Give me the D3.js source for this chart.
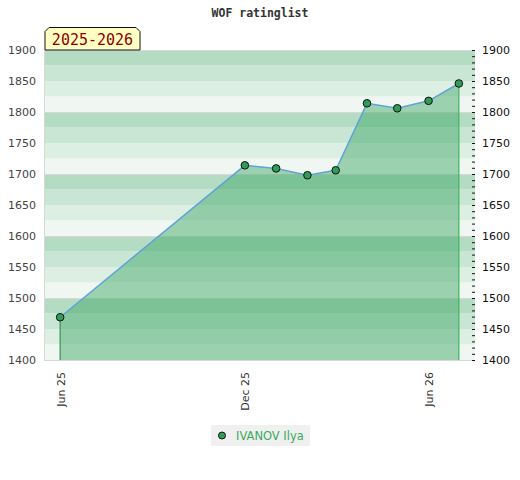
<!DOCTYPE html>
<html>
<head>
  <meta charset="utf-8">
  <script src="https://d3js.org/d3.v7.min.js"></script>
  <style>
    body { margin: 0; background: #fff; }
  </style>
</head>
<body>
  <svg id="chart" width="520" height="480"></svg>
  <script>
    // data
    const dates = ["2025-06-01", "2025-12-01", "2026-01-01", "2026-02-01", "2026-03-01",
      "2026-04-01", "2026-05-01", "2026-06-01", "2026-07-01"];
    const ratings = [1469, 1714, 1709, 1698, 1706, 1814, 1806, 1818, 1846];
    const xTicks = ["2025-06-01", "2025-12-01", "2026-06-01"];
    const yTicks = [1400, 1450, 1500, 1550, 1600, 1650, 1700, 1750, 1800, 1850, 1900];
    const playerName = "IVANOV Ilya";
    const seasonLabel = "2025-2026";
    const title = "WOF ratinglist";

    const svg = d3.select("#chart");
    const parse = d3.timeParse("%Y-%m-%d");
    const points = dates.map((d, i) => ({ date: parse(d), rating: ratings[i] }));

    const plotL = 45, plotR = 475, plotT = 50, plotB = 360;

    const x = d3.scaleTime()
      .domain([parse("2025-05-17"), parse("2026-07-17")])
      .range([plotL, plotR]);
    const y = d3.scaleLinear().domain([1400, 1900]).range([plotB, plotT]);

    // striped background, 4 bands per hundred, darker on top
    const bandColors = ["#b3dcc3", "#c8e6d3", "#ddefe3", "#f0f7f2"];
    const bands = d3.range(1400, 1900, 25);
    svg.append("g").selectAll("rect").data(bands).join("rect")
      .attr("x", plotL)
      .attr("width", plotR - plotL)
      .attr("y", d => y(d + 25))
      .attr("height", d => y(d) - y(d + 25))
      .attr("fill", d => bandColors[3 - ((d % 100) / 25)]);

    // hundred lines and frame
    svg.append("g").selectAll("line").data(d3.range(1400, 1901, 100)).join("line")
      .attr("x1", plotL).attr("x2", plotR)
      .attr("y1", d => y(d) + 0.5).attr("y2", d => y(d) + 0.5)
      .attr("stroke", "#d8d8d8");
    svg.append("line")
      .attr("x1", plotL - 0.5).attr("x2", plotL - 0.5)
      .attr("y1", plotT).attr("y2", plotB + 1)
      .attr("stroke", "#d8d8d8");

    // area under the rating line
    const area = d3.area()
      .x(d => x(d.date))
      .y0(y(1400))
      .y1(d => y(d.rating));
    svg.append("path")
      .datum(points)
      .attr("d", area)
      .attr("fill", "#3da667")
      .attr("fill-opacity", 0.47);

    const first = points[0], last = points[points.length - 1];
    svg.append("g").selectAll("line").data([first, last]).join("line")
      .attr("x1", d => x(d.date)).attr("x2", d => x(d.date))
      .attr("y1", d => y(d.rating)).attr("y2", y(1400))
      .attr("stroke", (d, i) => i == 0 ? "#3a8f55" : "#3cb55e")
      .attr("stroke-width", 1.2);

    const line = d3.line()
      .x(d => x(d.date))
      .y(d => y(d.rating));
    svg.append("path")
      .datum(points)
      .attr("d", line)
      .attr("fill", "none")
      .attr("stroke", "#5fa3d8")
      .attr("stroke-width", 1.5);

    svg.append("g").selectAll("circle").data(points).join("circle")
      .attr("cx", d => x(d.date))
      .attr("cy", d => y(d.rating))
      .attr("r", 3.8)
      .attr("fill", "#2f9d57")
      .attr("stroke", "#111")
      .attr("stroke-width", 1);

    const numFmt = d3.format("d");

    // left axis labels
    const leftAxis = svg.append("g")
      .attr("transform", `translate(${plotL},0)`)
      .call(d3.axisLeft(y).tickValues(yTicks).tickSize(0).tickPadding(9).tickFormat(numFmt));
    leftAxis.select(".domain").remove();
    leftAxis.selectAll("text")
      .attr("font-family", "DejaVu Sans")
      .attr("font-size", 11)
      .attr("fill", "#444");

    // right axis: minor ticks every 10, labels every 50
    const minor = svg.append("g")
      .attr("transform", `translate(${plotR},0)`)
      .call(d3.axisRight(y).tickValues(d3.range(1400, 1901, 10)).tickSize(-3).tickFormat(""));
    minor.select(".domain").remove();
    minor.selectAll("line").attr("stroke", "#111");

    const rightAxis = svg.append("g")
      .attr("transform", `translate(${plotR},0)`)
      .call(d3.axisRight(y).tickValues(yTicks).tickSize(0).tickPadding(7).tickFormat(numFmt));
    rightAxis.select(".domain").remove();
    rightAxis.selectAll("text")
      .attr("font-family", "DejaVu Sans")
      .attr("font-size", 11)
      .attr("fill", "#111");

    // x axis, rotated labels
    const fmt = d3.timeFormat("%b %y");
    const xAxis = svg.append("g")
      .attr("transform", `translate(0,${plotB})`)
      .call(d3.axisBottom(x).tickValues(xTicks.map(parse)).tickSize(0).tickFormat(fmt));
    xAxis.select(".domain").remove();
    xAxis.selectAll("text")
      .attr("font-family", "DejaVu Sans")
      .attr("font-size", 11)
      .attr("fill", "#333")
      .attr("text-anchor", "end")
      .attr("transform", "rotate(-90)")
      .attr("x", -12)
      .attr("y", 0)
      .attr("dy", "0.35em");

    // title
    svg.append("text")
      .attr("x", 260).attr("y", 17)
      .attr("text-anchor", "middle")
      .attr("font-family", "DejaVu Sans Mono")
      .attr("font-weight", "bold")
      .attr("font-size", 11.5)
      .attr("fill", "#333")
      .text(title);

    // season label box with clipped top corners
    const bx0 = 45, bx1 = 140, by0 = 27.5, by1 = 50, c = 4;
    svg.append("path")
      .attr("d", `M${bx0},${by1} L${bx0},${by0 + c} L${bx0 + c},${by0} L${bx1 - c},${by0} L${bx1},${by0 + c} L${bx1},${by1} Z`)
      .attr("fill", "#ffffc4")
      .attr("stroke", "#111")
      .attr("stroke-width", 1);
    svg.append("text")
      .attr("x", 92.5).attr("y", 45)
      .attr("text-anchor", "middle")
      .attr("font-family", "DejaVu Sans Mono")
      .attr("font-size", 15)
      .attr("fill", "#8b0000")
      .text(seasonLabel);

    // legend
    const legend = svg.append("g").attr("transform", "translate(211,425)");
    legend.append("rect")
      .attr("width", 99).attr("height", 21)
      .attr("fill", "#f0f0f0");
    legend.append("circle")
      .attr("cx", 11).attr("cy", 10.5).attr("r", 3.5)
      .attr("fill", "#2f9d57").attr("stroke", "#111");
    legend.append("text")
      .attr("x", 25).attr("y", 15)
      .attr("font-family", "DejaVu Sans")
      .attr("font-size", 11.5)
      .attr("fill", "#3aaa5c")
      .text(playerName);
  </script>
</body>
</html>
